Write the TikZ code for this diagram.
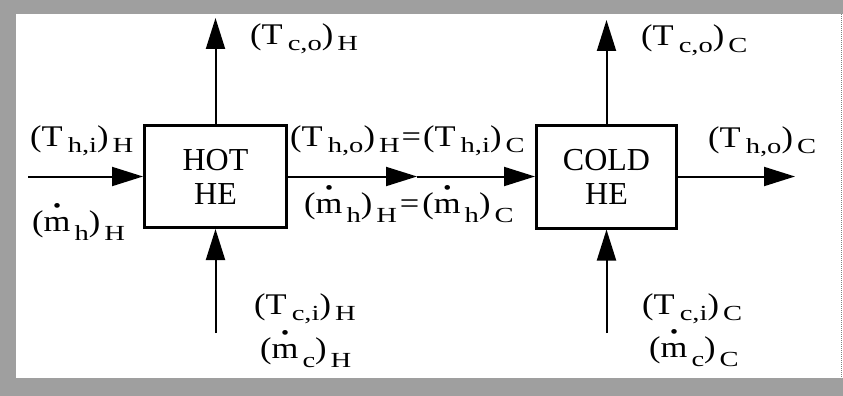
\documentclass[tikz,border=0pt]{standalone}
\usepackage{fontspec}
\setmainfont{Liberation Serif}
\newfontfamily\labfont[FakeStretch=1.15]{Liberation Serif}
\newfontfamily\subfont[FakeStretch=1.33]{Liberation Serif}
\usetikzlibrary{arrows.meta}
\newcommand\sbx[2][6pt]{\raisebox{-#1}[0pt][0pt]{\subfont\fontsize{21.5}{21.5}\selectfont #2}}
\newcommand\Tlab[2]{(T\hspace{5pt}\sbx{#1})\hspace{4pt}\sbx{#2}}
\newcommand\mdt{\ooalign{m\cr\hidewidth\smash{\raisebox{19pt}{\fontsize{20}{20}\selectfont\textbullet}}\hidewidth\cr}}
\newcommand\mlab[2]{(\mdt\hspace{4pt}\sbx[9pt]{#1})\hspace{4pt}\sbx[9pt]{#2}}
\begin{document}
\begin{tikzpicture}[x=1pt,y=-1pt,
  box/.style={draw,line width=3pt,inner sep=0pt,align=center,font=\fontsize{32}{34}\selectfont},
  flow/.style={line width=2pt,-{Triangle[length=31pt,width=19pt]}},
  lab/.style={anchor=base west,inner sep=0pt,font=\labfont\fontsize{30}{30}\selectfont}]
\useasboundingbox (0,0) rectangle (843,396);
\fill[gray!75] (0,0) rectangle (843,14);
\fill[gray!75] (0,0) rectangle (16,396);
\fill[gray!75] (0,378) rectangle (843,396);
\draw[gray, densely dotted, line width=1pt] (841,14) -- (841,378);

\node[box,minimum width=142pt,minimum height=102pt] (hot) at (215.5,176.5) {HOT\\HE};
\node[box,minimum width=140pt,minimum height=103pt] (cold) at (606.5,176.5) {COLD\\HE};

\coordinate (in) at (28,176.5);
\coordinate (mid) at (417,176.5);
\coordinate (out) at (795,176.5);
\coordinate (htop) at (215.5,18);
\coordinate (hbot) at (215.5,333);
\coordinate (ctop) at (606.5,20);
\coordinate (cbot) at (606.5,333);

\draw[flow] (in) -- (hot.west);
\draw[flow] (hot.east) -- (mid);
\draw[flow] (mid) -- (cold.west);
\draw[flow] (cold.east) -- (out);
\draw[flow] (hot.north) -- (htop);
\draw[flow] (hbot) -- (hot.south);
\draw[flow] (cold.north) -- (ctop);
\draw[flow] (cbot) -- (cold.south);

\node[lab] (tcoh) at (250,45) {\Tlab{c,o}{H}};
\node[lab] (tcoc) at (641,46) {\Tlab{c,o}{C}};
\node[lab] (thih) at (30,146) {\Tlab{h,i}{H}};
\node[lab] (mhh) at (32,231) {\mlab{h}{H}};
\node[lab] (teq) at (290,146) {\Tlab{h,o}{H}\hspace{2pt}=\hspace{2pt}\Tlab{h,i}{C}};
\node[lab] (meq) at (304,213) {\mlab{h}{H}\hspace{3pt}=\hspace{3pt}\mlab{h}{C}};
\node[lab] (thoc) at (708,147) {\Tlab{h,o}{C}};
\node[lab] (tcih) at (254,314) {\Tlab{c,i}{H}};
\node[lab] (mch) at (260,358) {\mlab{c}{H}};
\node[lab] (tcic) at (642,314) {\Tlab{c,i}{C}};
\node[lab] (mcc) at (649,357) {\mlab{c}{C}};
\end{tikzpicture}
\end{document}
